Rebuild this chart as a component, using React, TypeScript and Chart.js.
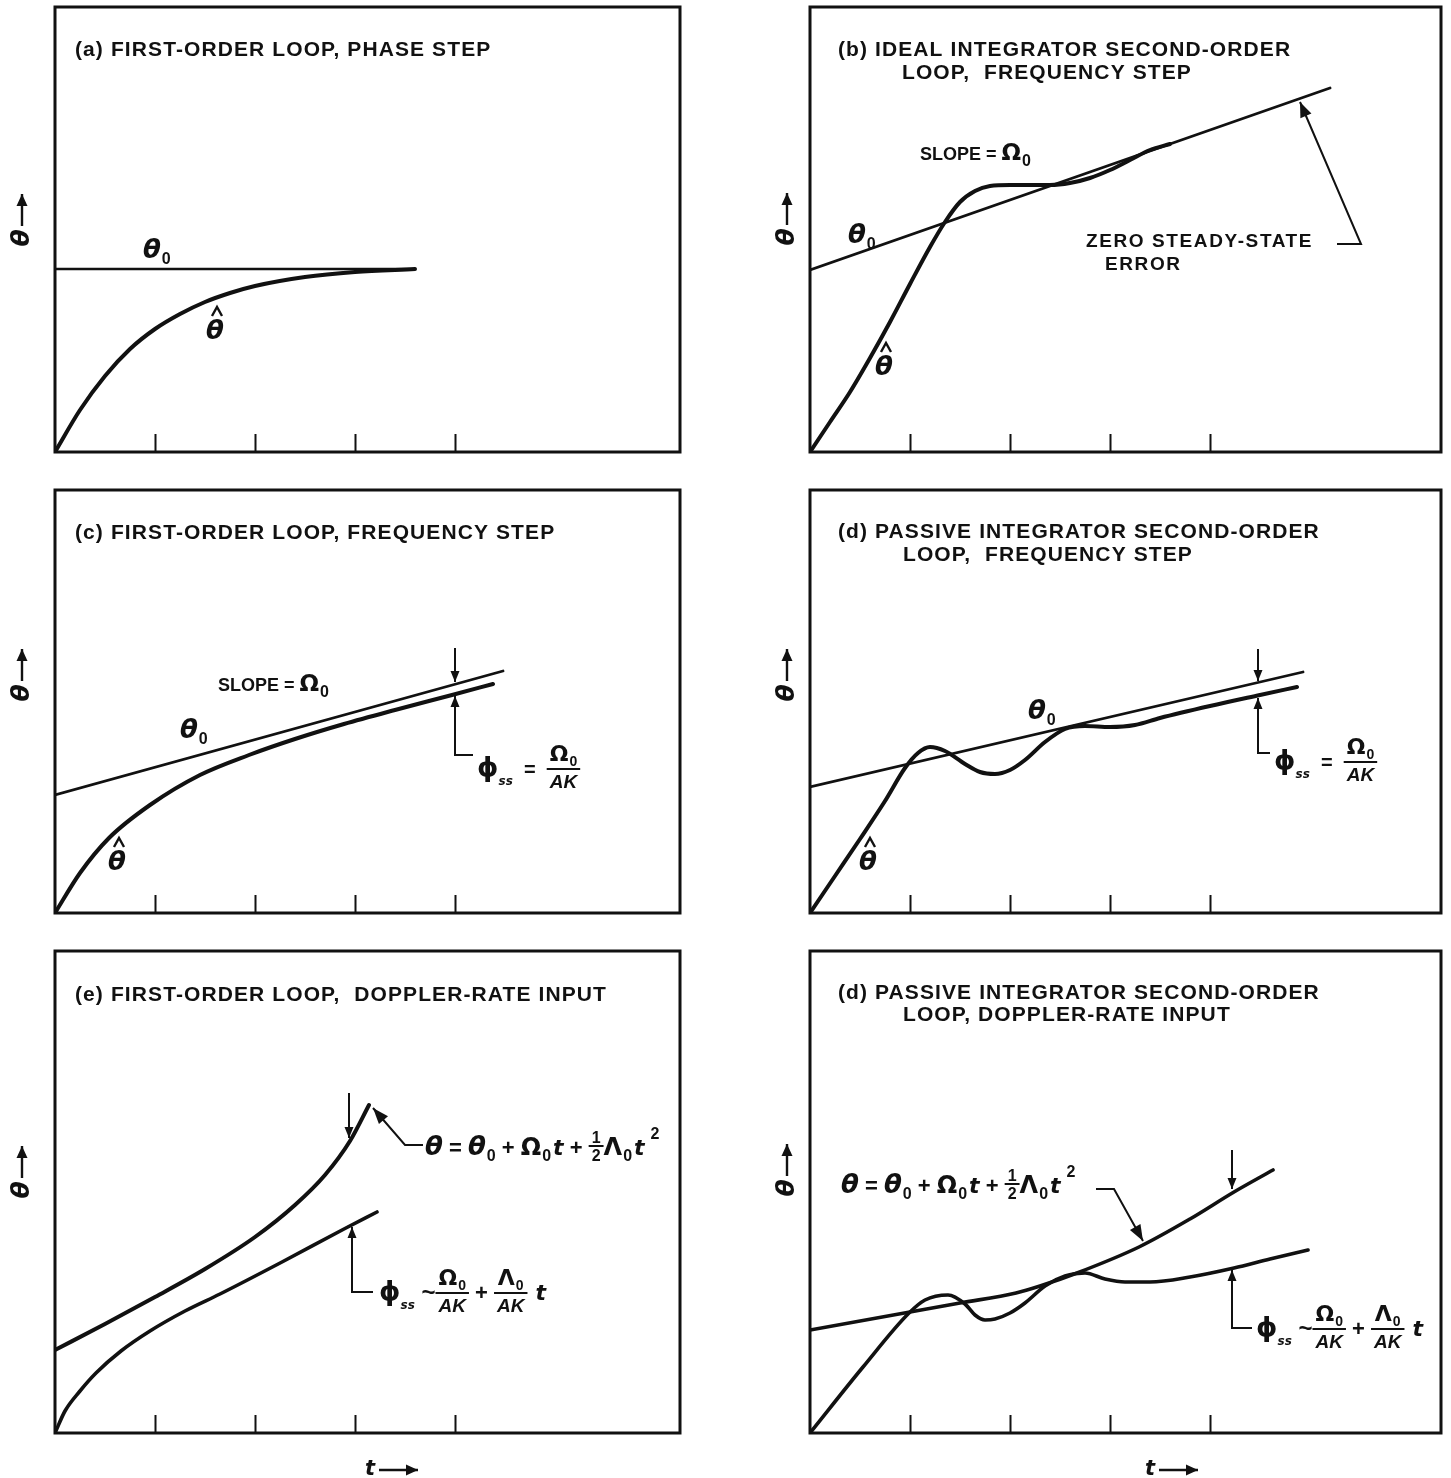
import React, { useEffect, useRef } from 'react';
import { Chart, registerables } from 'chart.js';

Chart.register(...registerables);

// Inner tick marks on every time axis (t units)
const TICK_T = [1, 2, 3, 4];

// (a) first-order loop, phase step
const A_INPUT_T = [0, 3.6];
const A_INPUT_Y = [1.83, 1.83];
const A_EST_T = [0, 0.25, 0.5, 0.75, 1, 1.25, 1.5, 1.75, 2, 2.5, 3, 3.6];
const A_EST_Y = [0, 0.42, 0.76, 1.03, 1.23, 1.38, 1.5, 1.59, 1.66, 1.75, 1.8, 1.83];

// (b) ideal integrator second-order loop, frequency step
const B_INPUT_T = [0, 5.2];
const B_INPUT_Y = [1.82, 3.64];
const B_EST_T = [0, 0.2, 0.4, 0.6, 0.8, 1.0, 1.2, 1.35, 1.5, 1.65, 1.8, 2.0, 2.2, 2.4, 2.6, 2.8, 3.0, 3.2, 3.4, 3.6];
const B_EST_Y = [0, 0.3, 0.6, 0.94, 1.3, 1.68, 2.05, 2.3, 2.5, 2.61, 2.66, 2.67, 2.67, 2.67, 2.69, 2.74, 2.82, 2.92, 3.02, 3.08];

// (c) first-order loop, frequency step
const C_INPUT_T = [0, 4.48];
const C_INPUT_Y = [1.18, 2.42];
const C_EST_T = [0, 0.25, 0.54, 0.95, 1.45, 1.94, 2.4, 2.89, 3.4, 3.97, 4.38];
const C_EST_Y = [0, 0.4, 0.75, 1.08, 1.38, 1.58, 1.74, 1.89, 2.03, 2.18, 2.29];

// (d) passive integrator second-order loop, frequency step
const D_INPUT_T = [0, 4.93];
const D_INPUT_Y = [1.26, 2.41];
const D_EST_T = [0, 0.25, 0.5, 0.75, 0.95, 1.08, 1.2, 1.35, 1.55, 1.7, 1.85, 2.0, 2.15, 2.35, 2.55, 2.75, 3.0, 3.25, 3.5, 4.0, 4.5, 4.87];
const D_EST_Y = [0, 0.37, 0.74, 1.12, 1.45, 1.6, 1.66, 1.62, 1.49, 1.41, 1.39, 1.43, 1.53, 1.71, 1.84, 1.87, 1.86, 1.88, 1.95, 2.07, 2.18, 2.26];

// (e) first-order loop, doppler-rate input
const E_INPUT_T = [0, 0.5, 1.0, 1.5, 2.0, 2.4, 2.7, 2.95, 3.14];
const E_INPUT_Y = [0.83, 1.09, 1.36, 1.64, 1.96, 2.28, 2.58, 2.92, 3.28];
const E_EST_T = [0, 0.1, 0.25, 0.41, 0.66, 0.95, 1.3, 1.65, 2.27, 2.89, 3.22];
const E_EST_Y = [0, 0.22, 0.42, 0.6, 0.82, 1.02, 1.22, 1.39, 1.71, 2.04, 2.21];

// (f) passive integrator second-order loop, doppler-rate input
const F_INPUT_T = [0, 1.0, 1.5, 2.06, 2.3, 2.67, 3.29, 3.8, 4.24, 4.63];
const F_INPUT_Y = [1.03, 1.21, 1.3, 1.4, 1.47, 1.6, 1.86, 2.14, 2.41, 2.63];
const F_EST_T = [0, 0.53, 0.99, 1.15, 1.38, 1.55, 1.65, 1.75, 1.85, 2.0, 2.15, 2.35, 2.55, 2.75, 2.95, 3.15, 3.4, 3.8, 4.24, 4.6, 4.98];
const F_EST_Y = [0, 0.66, 1.2, 1.33, 1.38, 1.29, 1.18, 1.13, 1.14, 1.2, 1.3, 1.47, 1.57, 1.6, 1.54, 1.51, 1.51, 1.56, 1.65, 1.74, 1.83];

const INK = '#111';
const SANS = '"Liberation Sans", Arial, sans-serif';
const GREEK = '"DejaVu Sans", sans-serif';
const TITLE_FONT = `bold 21px ${SANS}`;
const TITLE_SPACING = '1.1px';

type Run = { t: string; f: string; dy?: number; dx?: number };
type Frac = { num: Piece[]; den: Piece[]; up?: number; down?: number; bar?: number };
type Piece = Run | Frac;

const theta = (px = 26): Run => ({ t: 'θ', f: `italic bold ${px}px ${GREEK}` });
const sub0 = (px = 16, dy = 6): Run => ({ t: '0', f: `bold ${px}px ${SANS}`, dy, dx: 1 });
const omega = (px = 24): Run => ({ t: 'Ω', f: `bold ${px}px ${GREEK}` });
const lambda = (px = 24): Run => ({ t: 'Λ', f: `bold ${px}px ${GREEK}` });
const phi = (px = 27): Run => ({ t: 'ϕ', f: `bold ${px}px ${GREEK}` });
const ssSub: Run = { t: 'ss', f: `italic bold 12px ${GREEK}`, dy: 9 };
const op = (s: string, px = 22): Run => ({ t: s, f: `bold ${px}px ${SANS}` });
const tVar = (px = 22): Run => ({ t: 't', f: `italic bold ${px}px ${GREEK}`, dx: 2 });
const ak = (): Run => ({ t: 'AK', f: `italic bold 19px ${SANS}` });
const frac = (num: Piece[], den: Piece[], extra: Partial<Frac> = {}): Frac => ({ num, den, ...extra });

const THETA_0: Piece[] = [theta(26), sub0()];
const SLOPE_LABEL: Piece[] = [{ t: 'SLOPE', f: `bold 18px ${SANS}` }, op(' = ', 18), omega(23), sub0(16, 6)];
const PHI_SS_STEP: Piece[] = [phi(27), ssSub, op('  =  ', 20), frac([omega(22), sub0(14, 5)], [ak()])];
const THETA_QUAD: Piece[] = [
  theta(26), op(' = '), theta(26), sub0(), op(' + '), omega(24), sub0(), tVar(),
  op(' + '), frac([op('1', 16)], [op('2', 16)], { up: 3, down: 15, bar: 9 }), lambda(24), sub0(), tVar(),
  { t: '2', f: `bold 16px ${SANS}`, dy: -16, dx: 6 },
];
const PHI_SS_RATE: Piece[] = [
  phi(27), ssSub, op(' ~', 24), frac([omega(22), sub0(14, 5)], [ak()]), op(' + '),
  frac([lambda(22), sub0(14, 5)], [ak()]), op(' '), tVar(),
];

type Pt = [number, number];
type Item =
  | { k: 'text'; x: number; y: number; text: string; font?: string; spacing?: string }
  | { k: 'expr'; x: number; y: number; p: Piece[] }
  | { k: 'hat'; x: number; y: number }
  | { k: 'arrow'; pts: Pt[]; head?: number; half?: number; lw?: number }
  | { k: 'thetaAxis'; x: number; y: number }
  | { k: 'timeAxis'; x: number; y: number };

type Series = { t: number[]; y: number[]; w: number };
type Panel = {
  id: string;
  cx: number; cy: number; cw: number; ch: number;
  pad: { left: number; right: number; top: number; bottom: number };
  xMax: number; yMax: number;
  series: Series[];
  items: Item[];
};

const isFrac = (p: Piece): p is Frac => (p as Frac).num !== undefined;

function piecesWidth(ctx: CanvasRenderingContext2D, ps: Piece[]): number {
  let w = 0;
  for (const p of ps) {
    if (isFrac(p)) w += fracWidth(ctx, p);
    else {
      ctx.font = p.f;
      w += ctx.measureText(p.t).width + (p.dx ?? 0);
    }
  }
  return w;
}
function fracWidth(ctx: CanvasRenderingContext2D, f: Frac) {
  return Math.max(piecesWidth(ctx, f.num), piecesWidth(ctx, f.den)) + 6;
}
function drawPieces(ctx: CanvasRenderingContext2D, ps: Piece[], x: number, base: number): number {
  let cx = x;
  ctx.textAlign = 'left';
  ctx.textBaseline = 'alphabetic';
  for (const p of ps) {
    if (isFrac(p)) {
      const w = fracWidth(ctx, p);
      const barY = base - (p.bar ?? 7);
      ctx.fillRect(cx, barY - 1, w, 2);
      const nw = piecesWidth(ctx, p.num);
      const dw = piecesWidth(ctx, p.den);
      drawPieces(ctx, p.num, cx + (w - nw) / 2, barY - (p.up ?? 8));
      drawPieces(ctx, p.den, cx + (w - dw) / 2, barY + (p.down ?? 19));
      cx += w;
    } else {
      ctx.font = p.f;
      cx += p.dx ?? 0;
      ctx.fillText(p.t, cx, base + (p.dy ?? 0));
      cx += ctx.measureText(p.t).width;
    }
  }
  return cx - x;
}

function arrow(ctx: CanvasRenderingContext2D, pts: Pt[], head = 11, half = 4.5, lw = 2) {
  ctx.lineWidth = lw;
  ctx.lineCap = 'butt';
  ctx.lineJoin = 'miter';
  ctx.beginPath();
  ctx.moveTo(pts[0][0], pts[0][1]);
  for (let i = 1; i < pts.length; i++) ctx.lineTo(pts[i][0], pts[i][1]);
  ctx.stroke();
  const [x2, y2] = pts[pts.length - 1];
  const [x1, y1] = pts[pts.length - 2];
  const a = Math.atan2(y2 - y1, x2 - x1);
  const c = Math.cos(a);
  const s = Math.sin(a);
  ctx.beginPath();
  ctx.moveTo(x2, y2);
  ctx.lineTo(x2 - head * c + half * s, y2 - head * s - half * c);
  ctx.lineTo(x2 - head * c - half * s, y2 - head * s + half * c);
  ctx.closePath();
  ctx.fill();
}

function makeOverlay(panel: Panel) {
  return {
    id: 'overlay',
    afterDraw(chart: Chart) {
      const { ctx, chartArea: a } = chart;
      const X = (v: number) => chart.scales.x.getPixelForValue(v);
      const Y = (v: number) => chart.scales.y.getPixelForValue(v);
      ctx.save();
      ctx.strokeStyle = INK;
      ctx.fillStyle = INK;

      // plot frame
      ctx.lineWidth = 3;
      ctx.lineJoin = 'miter';
      ctx.strokeRect(a.left, a.top, a.right - a.left, a.bottom - a.top);

      // inward tick marks on the time axis
      ctx.lineWidth = 2;
      ctx.beginPath();
      for (const t of TICK_T) {
        const x = Math.round(X(t)) + 0.5;
        ctx.moveTo(x, a.bottom);
        ctx.lineTo(x, a.bottom - 18);
      }
      ctx.stroke();

      for (const it of panel.items) {
        if (it.k === 'text') {
          ctx.font = it.font ?? TITLE_FONT;
          (ctx as any).letterSpacing = it.spacing ?? TITLE_SPACING;
          ctx.textAlign = 'left';
          ctx.textBaseline = 'middle';
          ctx.fillText(it.text, X(it.x), Y(it.y));
          (ctx as any).letterSpacing = '0px';
        } else if (it.k === 'expr') {
          drawPieces(ctx, it.p, X(it.x), Y(it.y) + 8);
        } else if (it.k === 'hat') {
          const cx = X(it.x);
          const cy = Y(it.y);
          ctx.font = `italic bold 26px ${GREEK}`;
          ctx.textAlign = 'center';
          ctx.textBaseline = 'middle';
          ctx.fillText('θ', cx, cy);
          ctx.lineWidth = 2.4;
          ctx.beginPath();
          ctx.moveTo(cx - 3, cy - 16);
          ctx.lineTo(cx + 2, cy - 25);
          ctx.lineTo(cx + 7, cy - 16);
          ctx.stroke();
        } else if (it.k === 'arrow') {
          arrow(ctx, it.pts.map(([u, v]) => [X(u), Y(v)] as Pt), it.head, it.half, it.lw);
        } else if (it.k === 'thetaAxis') {
          ctx.save();
          ctx.translate(X(it.x), Y(it.y));
          ctx.rotate(-Math.PI / 2);
          ctx.font = `italic bold 25px ${GREEK}`;
          ctx.textAlign = 'center';
          ctx.textBaseline = 'middle';
          ctx.fillText('θ', 0, 0);
          arrow(ctx, [[12, 0], [44, 0]], 12, 5.5, 2.4);
          ctx.restore();
        } else if (it.k === 'timeAxis') {
          const x = X(it.x);
          const y = Y(it.y);
          ctx.font = `italic bold 21px ${GREEK}`;
          ctx.textAlign = 'center';
          ctx.textBaseline = 'middle';
          ctx.fillText('t', x, y);
          arrow(ctx, [[x + 9, y], [x + 48, y]], 12, 5.5, 2.4);
        }
      }
      ctx.restore();
    },
  };
}

const LEFT = { cx: 0, cw: 740, left: 55, right: 60, xMax: 6.25 };
const RIGHT = { cx: 740, cw: 711, left: 70, right: 10, xMax: 6.31 };
const ROW1 = { cy: 0, ch: 471, top: 7, bottom: 19, yMax: 4.45 };
const ROW2 = { cy: 471, ch: 461, top: 19, bottom: 19, yMax: 4.23 };
const ROW3 = { cy: 932, ch: 546, top: 19, bottom: 45, yMax: 4.82 };

function cell(col: typeof LEFT, row: typeof ROW1) {
  return {
    cx: col.cx, cw: col.cw, cy: row.cy, ch: row.ch,
    pad: { left: col.left, right: col.right, top: row.top, bottom: row.bottom },
    xMax: col.xMax, yMax: row.yMax,
  };
}

const PANELS: Panel[] = [
  {
    id: 'a', ...cell(LEFT, ROW1),
    series: [
      { t: A_INPUT_T, y: A_INPUT_Y, w: 2.5 },
      { t: A_EST_T, y: A_EST_Y, w: 4 },
    ],
    items: [
      { k: 'text', x: 0.2, y: 4.02, text: '(a) FIRST-ORDER LOOP, PHASE STEP' },
      { k: 'expr', x: 0.88, y: 2.02, p: THETA_0 },
      { k: 'hat', x: 1.6, y: 1.2 },
      { k: 'thetaAxis', x: -0.33, y: 2.14 },
    ],
  },
  {
    id: 'b', ...cell(RIGHT, ROW1),
    series: [
      { t: B_INPUT_T, y: B_INPUT_Y, w: 2.8 },
      { t: B_EST_T, y: B_EST_Y, w: 4 },
    ],
    items: [
      { k: 'text', x: 0.28, y: 4.02, text: '(b) IDEAL INTEGRATOR SECOND-ORDER' },
      { k: 'text', x: 0.92, y: 3.79, text: 'LOOP,  FREQUENCY STEP' },
      { k: 'expr', x: 1.1, y: 3.0, p: SLOPE_LABEL },
      { k: 'expr', x: 0.38, y: 2.17, p: THETA_0 },
      { k: 'hat', x: 0.74, y: 0.84 },
      { k: 'text', x: 2.76, y: 2.1, text: 'ZERO STEADY-STATE', font: `bold 19px ${SANS}`, spacing: '1.6px' },
      { k: 'text', x: 2.95, y: 1.87, text: 'ERROR', font: `bold 19px ${SANS}`, spacing: '1.6px' },
      { k: 'arrow', pts: [[5.27, 2.08], [5.51, 2.08], [4.9, 3.5]], head: 15, half: 6 },
      { k: 'thetaAxis', x: -0.23, y: 2.15 },
    ],
  },
  {
    id: 'c', ...cell(LEFT, ROW2),
    series: [
      { t: C_INPUT_T, y: C_INPUT_Y, w: 2.8 },
      { t: C_EST_T, y: C_EST_Y, w: 4 },
    ],
    items: [
      { k: 'text', x: 0.2, y: 3.8, text: '(c) FIRST-ORDER LOOP, FREQUENCY STEP' },
      { k: 'expr', x: 1.63, y: 2.3, p: SLOPE_LABEL },
      { k: 'expr', x: 1.25, y: 1.83, p: THETA_0 },
      { k: 'hat', x: 0.62, y: 0.5 },
      { k: 'arrow', pts: [[4.0, 2.65], [4.0, 2.31]] },
      { k: 'arrow', pts: [[4.18, 1.58], [4.0, 1.58], [4.0, 2.17]] },
      { k: 'expr', x: 4.22, y: 1.45, p: PHI_SS_STEP },
      { k: 'thetaAxis', x: -0.33, y: 2.2 },
    ],
  },
  {
    id: 'd', ...cell(RIGHT, ROW2),
    series: [
      { t: D_INPUT_T, y: D_INPUT_Y, w: 2.8 },
      { t: D_EST_T, y: D_EST_Y, w: 4 },
    ],
    items: [
      { k: 'text', x: 0.28, y: 3.81, text: '(d) PASSIVE INTEGRATOR SECOND-ORDER' },
      { k: 'text', x: 0.93, y: 3.58, text: 'LOOP,  FREQUENCY STEP' },
      { k: 'expr', x: 2.18, y: 2.02, p: THETA_0 },
      { k: 'hat', x: 0.58, y: 0.5 },
      { k: 'arrow', pts: [[4.48, 2.64], [4.48, 2.32]] },
      { k: 'arrow', pts: [[4.6, 1.6], [4.48, 1.6], [4.48, 2.15]] },
      { k: 'expr', x: 4.64, y: 1.52, p: PHI_SS_STEP },
      { k: 'thetaAxis', x: -0.23, y: 2.2 },
    ],
  },
  {
    id: 'e', ...cell(LEFT, ROW3),
    series: [
      { t: E_INPUT_T, y: E_INPUT_Y, w: 4 },
      { t: E_EST_T, y: E_EST_Y, w: 3.6 },
    ],
    items: [
      { k: 'text', x: 0.2, y: 4.38, text: '(e) FIRST-ORDER LOOP,  DOPPLER-RATE INPUT' },
      { k: 'arrow', pts: [[2.94, 3.4], [2.94, 2.95]] },
      { k: 'arrow', pts: [[3.68, 2.88], [3.5, 2.88], [3.18, 3.25]], head: 16, half: 6 },
      { k: 'expr', x: 3.7, y: 2.86, p: THETA_QUAD },
      { k: 'arrow', pts: [[3.18, 1.41], [2.97, 1.41], [2.97, 2.06]] },
      { k: 'expr', x: 3.24, y: 1.41, p: PHI_SS_RATE },
      { k: 'thetaAxis', x: -0.33, y: 2.43 },
      { k: 'timeAxis', x: 3.15, y: -0.37 },
    ],
  },
  {
    id: 'f', ...cell(RIGHT, ROW3),
    series: [
      { t: F_INPUT_T, y: F_INPUT_Y, w: 3.6 },
      { t: F_EST_T, y: F_EST_Y, w: 3.6 },
    ],
    items: [
      { k: 'text', x: 0.28, y: 4.4, text: '(d) PASSIVE INTEGRATOR SECOND-ORDER' },
      { k: 'text', x: 0.93, y: 4.18, text: 'LOOP, DOPPLER-RATE INPUT' },
      { k: 'expr', x: 0.31, y: 2.48, p: THETA_QUAD },
      { k: 'arrow', pts: [[2.86, 2.44], [3.04, 2.44], [3.33, 1.92]], head: 16, half: 6 },
      { k: 'arrow', pts: [[4.22, 2.83], [4.22, 2.44]] },
      { k: 'arrow', pts: [[4.42, 1.05], [4.22, 1.05], [4.22, 1.63]] },
      { k: 'expr', x: 4.46, y: 1.05, p: PHI_SS_RATE },
      { k: 'thetaAxis', x: -0.23, y: 2.45 },
      { k: 'timeAxis', x: 3.4, y: -0.37 },
    ],
  },
];

function buildChart(canvas: HTMLCanvasElement, panel: Panel) {
  return new Chart(canvas, {
    type: 'line',
    data: {
      datasets: panel.series.map((s) => ({
        data: s.t.map((t, i) => ({ x: t, y: s.y[i] })),
        borderColor: INK,
        borderWidth: s.w,
        pointRadius: 0,
        cubicInterpolationMode: 'monotone' as const,
        fill: false,
        borderCapStyle: 'round' as const,
        borderJoinStyle: 'round' as const,
      })),
    },
    options: {
      animation: false,
      responsive: false,
      events: [],
      layout: { padding: panel.pad },
      plugins: { legend: { display: false }, tooltip: { enabled: false }, title: { display: false } },
      scales: {
        x: { type: 'linear', min: 0, max: panel.xMax, display: false },
        y: { type: 'linear', min: 0, max: panel.yMax, display: false },
      },
    },
    plugins: [makeOverlay(panel)],
  });
}

export default function App() {
  const refs = useRef<(HTMLCanvasElement | null)[]>([]);

  useEffect(() => {
    document.body.style.margin = '0';
    const charts = PANELS.map((p, i) => buildChart(refs.current[i] as HTMLCanvasElement, p));
    return () => charts.forEach((c) => c.destroy());
  }, []);

  return (
    <div style={{ position: 'relative', width: 1451, height: 1478, background: '#fff' }}>
      {PANELS.map((p, i) => (
        <canvas
          key={p.id}
          ref={(el) => { refs.current[i] = el; }}
          width={p.cw}
          height={p.ch}
          style={{ position: 'absolute', left: p.cx, top: p.cy, width: p.cw, height: p.ch }}
        />
      ))}
    </div>
  );
}
